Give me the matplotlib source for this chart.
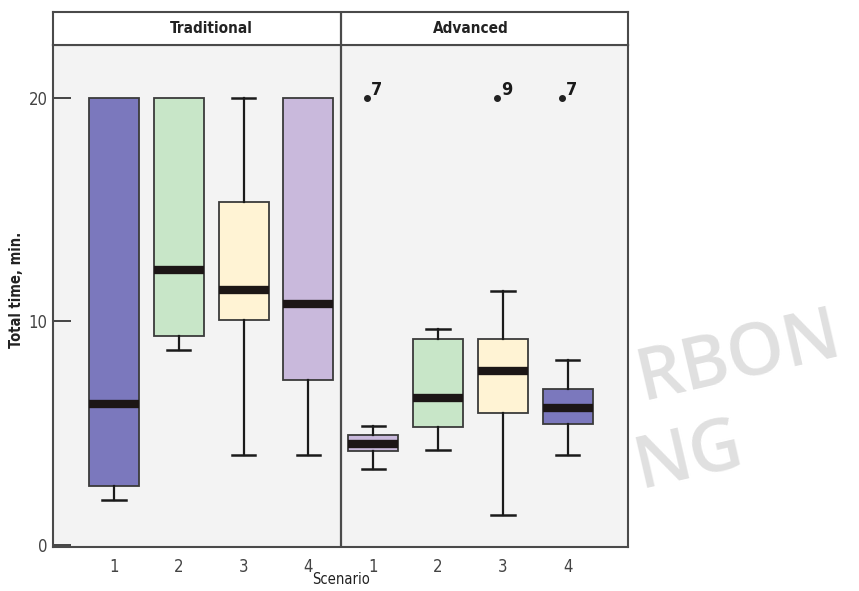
import matplotlib
matplotlib.use("Agg")
import matplotlib.pyplot as plt

# five-number summaries, Traditional then Advanced
panels = ["Traditional", "Advanced"]
scenarios = ["1", "2", "3", "4"]
whislo = [2.0, 8.7, 4.0, 4.0, 3.4, 4.25, 1.35, 4.0]
q1 = [2.65, 9.35, 10.05, 7.35, 4.2, 5.25, 5.9, 5.4]
med = [6.3, 12.3, 11.4, 10.75, 4.5, 6.55, 7.75, 6.1]
q3 = [20.0, 20.0, 15.35, 20.0, 4.9, 9.2, 9.2, 6.95]
whishi = [20.0, 20.0, 20.0, 20.0, 5.3, 9.65, 11.35, 8.25]
fliers = [[], [], [], [], [20.0], [], [20.0], [20.0]]
flier_ids = [[], [], [], [], ["7"], [], ["9"], ["7"]]
colors = ["#7b78bd", "#c8e6c8", "#fff3d4", "#c9b9dc",
          "#c9b9dc", "#c8e6c8", "#fff3d4", "#7b78bd"]

W, H = 859, 591
fig = plt.figure(figsize=(W / 100, H / 100), dpi=100)
fam = ["DejaVu Sans"]
cond = dict(family=fam, stretch="condensed")

# watermark behind everything
fig.text(642 / W, 1 - 401 / H, "RBON", rotation=13, rotation_mode="anchor",
         fontsize=52, color="#e0e0e0", fontweight="semibold", family="Open Sans",
         ha="left", va="baseline", zorder=-5)
fig.text(640 / W, 1 - 489 / H, "NG", rotation=13, rotation_mode="anchor",
         fontsize=52, color="#e0e0e0", fontweight="semibold", family="Open Sans",
         ha="left", va="baseline", zorder=-5)

ax = fig.add_axes([53 / W, 1 - 547 / H, 575 / W, 502 / H])
ax.set_facecolor("#f3f3f3")

stats = []
for i in range(8):
    stats.append(dict(whislo=whislo[i], q1=q1[i], med=med[i], q3=q3[i],
                      whishi=whishi[i], fliers=[]))
pos = list(range(1, 9))
bp = ax.bxp(stats, positions=pos, widths=0.77, capwidths=0.36,
            patch_artist=True, showfliers=False,
            boxprops=dict(edgecolor="#3a3a3a", linewidth=1.3),
            whiskerprops=dict(color="#1a1a1a", linewidth=1.6),
            capprops=dict(color="#1a1a1a", linewidth=1.8),
            medianprops=dict(color="#1c1616", linewidth=6, solid_capstyle="butt"))
for patch, c in zip(bp["boxes"], colors):
    patch.set_facecolor(c)
# no cap where the whisker has zero length
for i in range(8):
    if whislo[i] == q1[i]:
        bp["caps"][2 * i].set_visible(False)
    if whishi[i] == q3[i]:
        bp["caps"][2 * i + 1].set_visible(False)

for i in range(8):
    for v, lab in zip(fliers[i], flier_ids[i]):
        ax.plot(pos[i] - 0.09, v, "o", color="#222222", ms=4, zorder=5)
        ax.text(pos[i] - 0.03, v - 0.05, lab, fontsize=13, fontweight="bold",
                ha="left", va="bottom", color="#1a1a1a", **cond)

ax.axvline(4.5, color="#4a4a4a", lw=1.6)
ax.set_xlim(0.06, 8.93)
ax.set_ylim(-0.1, 22.35)
ax.set_yticks([0, 10, 20])
ax.set_yticklabels(["0", "10", "20"], fontsize=12, color="#444444", **cond)
ax.set_xticks(pos)
ax.set_xticklabels(scenarios * 2, fontsize=12, color="#444444", **cond)
ax.tick_params(axis="y", direction="in", length=13, width=1.4, color="#444444", pad=4)
ax.tick_params(axis="x", length=0, pad=8)
for s in ax.spines.values():
    s.set_color("#4a4a4a")
    s.set_linewidth(1.5)
fig.text(17 / W, 1 - 290 / H, "Total time, min.", rotation=90, fontsize=10.5,
         fontweight="bold", color="#222222", ha="center", va="center", **cond)
fig.text(341 / W, 1 - 580 / H, "Scenario", fontsize=10.5, color="#222222",
         ha="center", va="center", **cond)

# facet strip across the top
sx = fig.add_axes([53 / W, 1 - 45 / H, 575 / W, 33 / H])
sx.set_xlim(ax.get_xlim())
sx.set_ylim(0, 1)
sx.set_xticks([])
sx.set_yticks([])
sx.axvline(4.5, color="#4a4a4a", lw=1.6)
for s in sx.spines.values():
    s.set_color("#4a4a4a")
    s.set_linewidth(1.5)
sx.text(2.5, 0.5, panels[0], ha="center", va="center", fontsize=11,
        fontweight="bold", color="#222222", **cond)
sx.text(6.5, 0.5, panels[1], ha="center", va="center", fontsize=11,
        fontweight="bold", color="#222222", **cond)

fig.savefig("out.png", dpi=100)
